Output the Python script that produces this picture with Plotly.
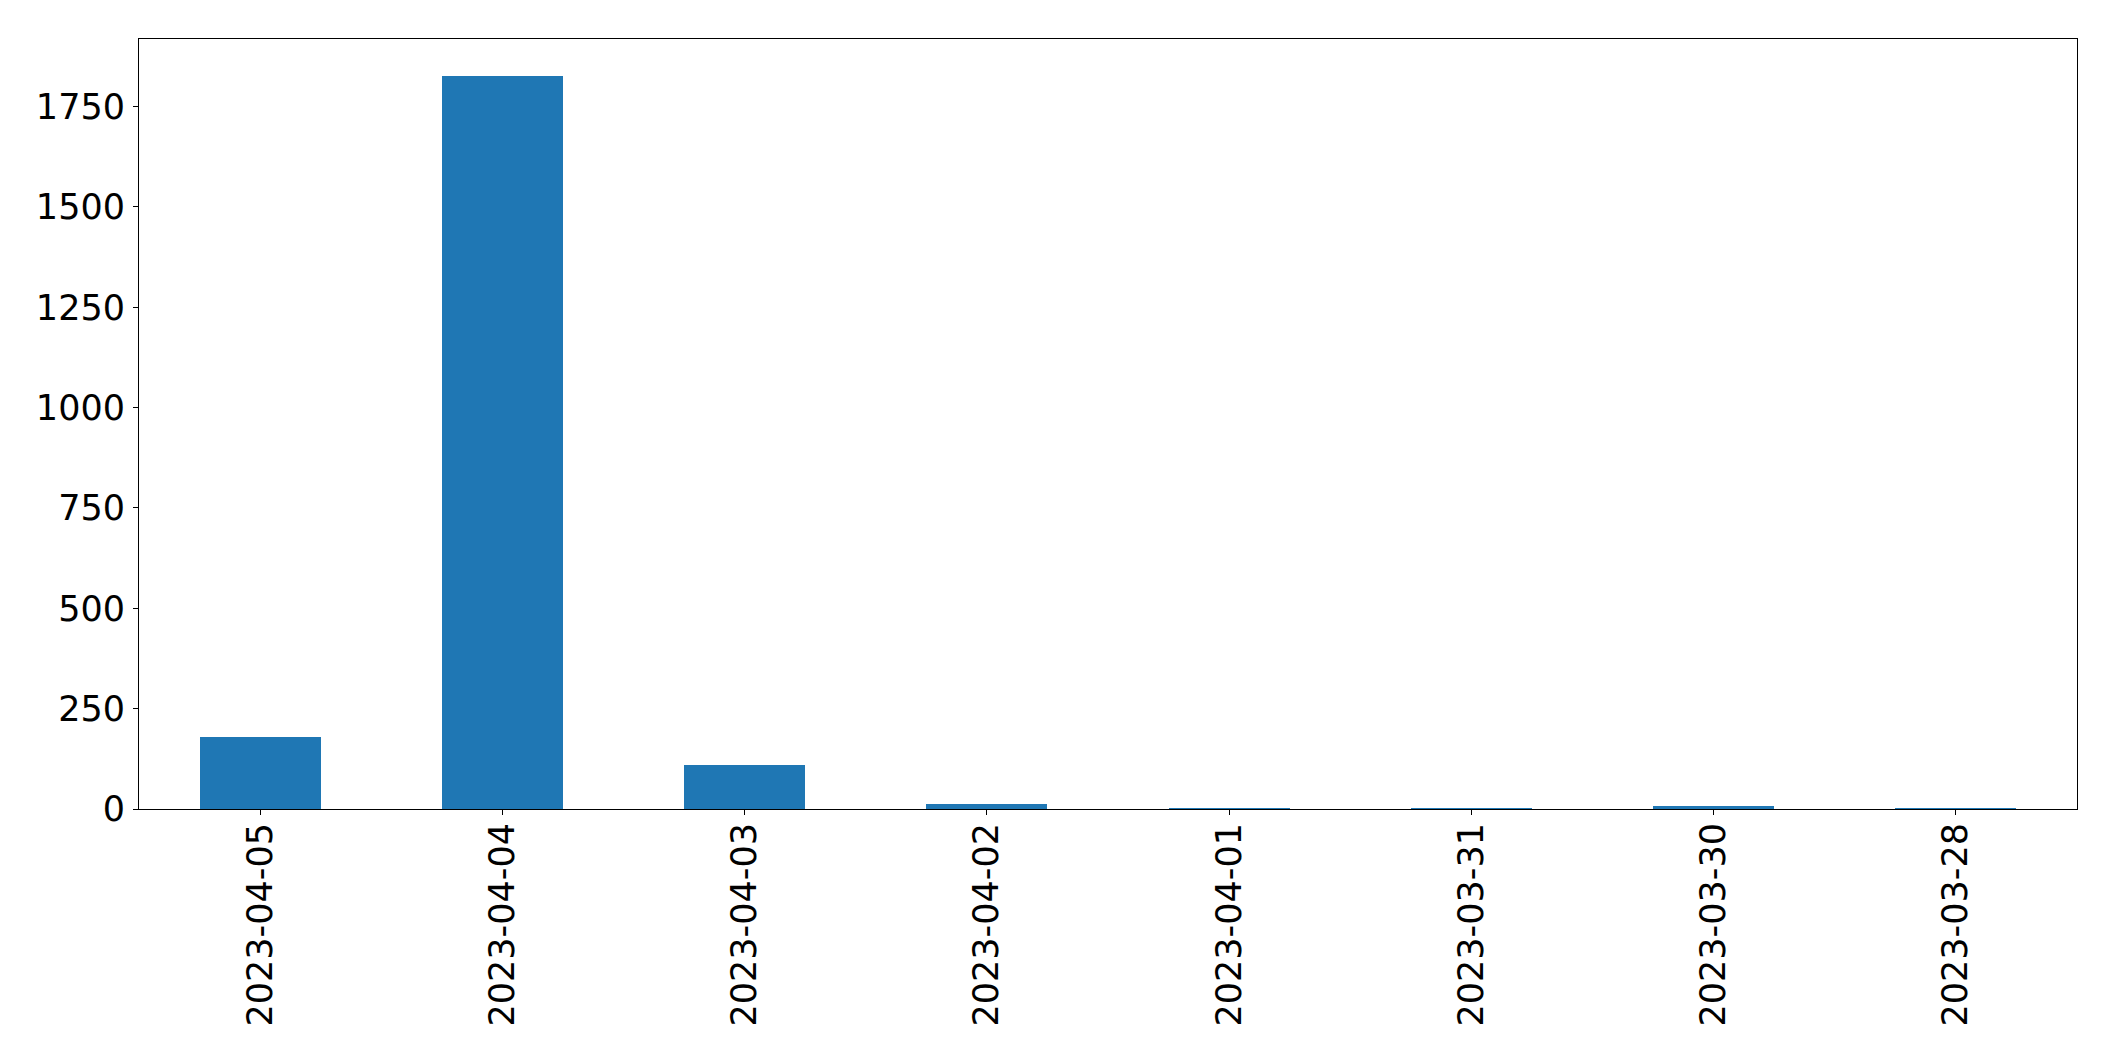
import plotly.graph_objects as go

dates = ["2023-04-05", "2023-04-04", "2023-04-03", "2023-04-02",
         "2023-04-01", "2023-03-31", "2023-03-30", "2023-03-28"]
counts = [180, 1827, 110, 12, 2, 2, 7, 2]
y_ticks = [0, 250, 500, 750, 1000, 1250, 1500, 1750]

# page body has an 8px margin; size the figure so the plot box lands
# where the reference places it (x 139-2077, y 39-809)
W, H = 2099, 1045
fig = go.Figure()
fig.add_trace(go.Bar(x=dates, y=counts, width=0.5, marker_color="#1f77b4",
                     marker_line_width=0))

font = dict(family="DejaVu Sans", size=35, color="black")
fig.update_layout(
    width=W, height=H,
    margin=dict(l=131, r=30, t=31, b=244, pad=0),
    paper_bgcolor="white", plot_bgcolor="white",
    showlegend=False, font=font, bargap=0,
)
fig.update_xaxes(type="category", range=[-0.5, len(dates) - 0.5],
                 tickangle=-90, ticks="outside", ticklen=5, tickwidth=1.1,
                 tickcolor="black", showline=True, linecolor="black",
                 linewidth=1.1, mirror=True, showgrid=False, zeroline=False,
                 tickfont=font, ticklabelstandoff=-6)
fig.update_yaxes(range=[0, max(counts) * 1.05], tickvals=y_ticks,
                 ticks="outside", ticklen=5, tickwidth=1.1, tickcolor="black",
                 showline=True, linecolor="black", linewidth=1.1, mirror=True,
                 showgrid=False, zeroline=False, tickfont=font,
                 ticklabelstandoff=1)
fig.write_html("out.html")
